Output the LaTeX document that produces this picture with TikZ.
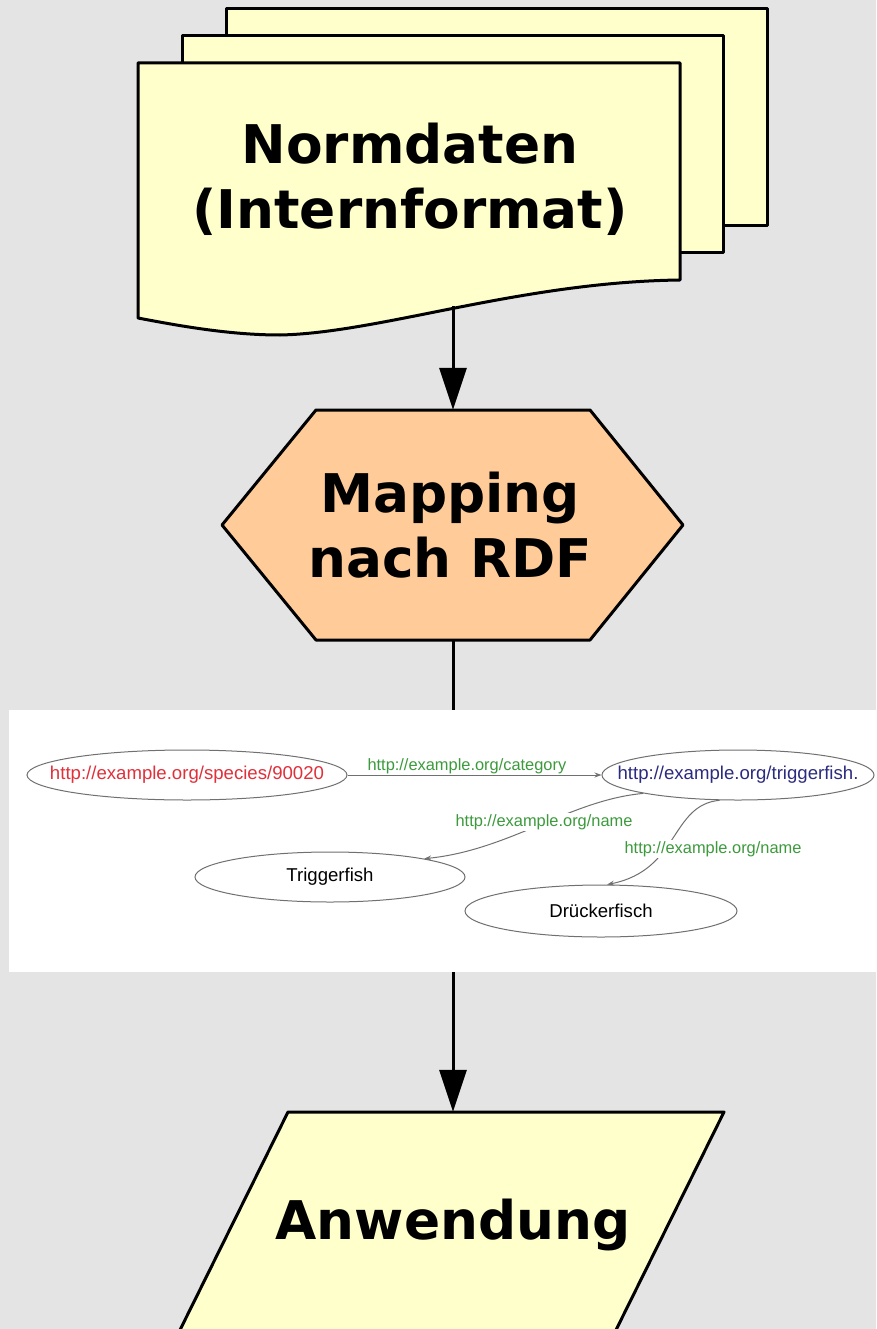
\documentclass[tikz,border=0pt]{standalone}
\usepackage{fontspec}
\setmainfont{DejaVu Sans}
\newfontfamily\gfont{Liberation Sans}
\usetikzlibrary{arrows.meta,shapes.geometric}
\definecolor{bg}{HTML}{E4E4E4}
\definecolor{docfill}{HTML}{FFFFCC}
\definecolor{hexfill}{HTML}{FFCC99}
\definecolor{lred}{HTML}{E0303A}
\definecolor{lblue}{HTML}{2B2B7F}
\definecolor{lgreen}{HTML}{3C9A3C}
\definecolor{egray}{HTML}{707070}
\begin{document}
\begin{tikzpicture}[x=1pt,y=-1pt,
 shapeline/.style={draw=black, line width=3pt, line join=round},
 flow/.style={line width=3pt, -{Triangle[length=42pt,width=27pt]}},
 plainflow/.style={line width=3pt},
 big/.style={font=\fontsize{53.3}{65}\selectfont\bfseries, align=center, inner sep=0pt},
 rnode/.style={ellipse, draw=egray, line width=1pt, inner sep=0pt},
 rtext/.style={font=\gfont\fontsize{18.6}{21}\selectfont},
 rlabel/.style={font=\gfont\fontsize{16.4}{18}\selectfont, text=lgreen, fill=white, inner sep=1pt},
 redge/.style={draw=egray, line width=1pt, -{Stealth[length=7pt,width=5pt]}}]
\useasboundingbox (0,0) rectangle (876,1329);
\clip (0,0) rectangle (876,1329);
\fill[bg] (0,0) rectangle (876,1329);

% document stack
\filldraw[shapeline, fill=docfill] (226,9) rectangle (767,226);
\filldraw[shapeline, fill=docfill] (182,36) rectangle (723,253);
\filldraw[shapeline, fill=docfill] (138,63) -- (680,63) -- (680,280)
  .. controls (520,282) and (380,333) .. (280,335)
  .. controls (230,335) and (180,326) .. (138,318) -- cycle;
\node[big] (doc) at (410,179) {Normdaten\\(Internformat)};
\coordinate (docb) at (453,306);

% hexagon
\filldraw[shapeline, fill=hexfill] (222,525) -- (316,410) -- (590,410) -- (683,525) -- (590,640) -- (316,640) -- cycle;
\node[big, minimum width=461pt, minimum height=230pt] (map) at (450,525) {Mapping\\nach RDF};

% RDF panel
\node[fill=white, inner sep=0pt, minimum width=867pt, minimum height=262pt] (rdf) at (442.5,841) {};

% parallelogram
\filldraw[shapeline, fill=docfill] (288,1112) -- (724,1112) -- (581.3,1400) -- (145.3,1400) -- cycle;
\node[big, minimum height=226pt] (app) at (453,1225) {Anwendung};

% flow connectors
\draw[flow] (docb) -- (docb |- map.north);
\draw[plainflow] (docb |- map.south) -- (docb |- rdf.north);
\draw[flow] (app.north |- rdf.south) -- (app.north);

% RDF graph
\node[rnode, minimum width=320pt, minimum height=50pt,
  label={[rtext, text=lred]center:http://example.org/species/90020}] (e1) at (187,775) {};
\node[rnode, minimum width=272pt, minimum height=50pt,
  label={[rtext, text=lblue]center:http://example.org/triggerfish.}] (e2) at (738,775) {};
\node[rnode, minimum width=270pt, minimum height=50pt,
  label={[rtext, text=black]center:Triggerfish}] (e3) at (330,877) {};
\node[rnode, minimum width=272pt, minimum height=52pt,
  label={[rtext, text=black]center:Drückerfisch}] (e4) at (601,911) {};

\draw[redge] (e1.east) -- node[pos=0.47, above, rlabel, fill=none, inner sep=0.5pt] (l1) {http://example.org/category} (e2.west);
\draw[redge] (e2.191) .. controls (570,800) and (510,850) .. (e3.11);
\draw[redge] (e2.234) .. controls (670,805) and (680,870) .. (e4.77);
\node[rlabel] (l2) at (544,822) {http://example.org/name};
\node[rlabel] (l3) at (713,849) {http://example.org/name};
\end{tikzpicture}
\end{document}
